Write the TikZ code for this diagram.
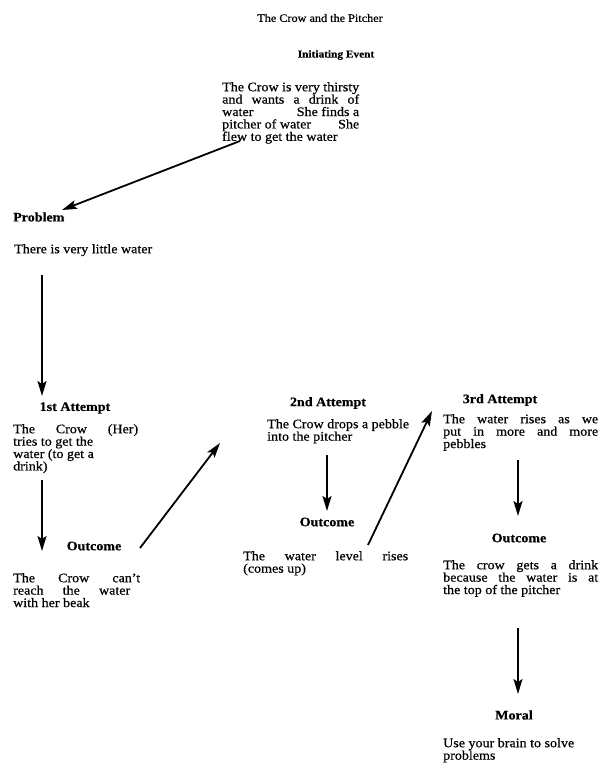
\documentclass[tikz,border=0pt]{standalone}
\usepackage{fontspec}
\setmainfont[FakeBold=0.6,FakeStretch=1.08]{Liberation Serif}
\usetikzlibrary{arrows.meta}
\newcommand\jl[2]{\hbox to #1{#2}}
\begin{document}
\begin{tikzpicture}[x=1pt,y=-1pt,
  body/.style={font=\fontsize{13}{12.4}\selectfont, align=left, inner sep=0pt, anchor=north west},
  head/.style={font=\fontsize{13}{12}\selectfont\bfseries, inner sep=0pt},
  arr/.style={line width=1.8pt, -{Stealth[length=15pt,width=9pt,inset=3pt]}}]
\useasboundingbox (0,0) rectangle (602,771);
\node[font=\fontsize{11.3}{13}\selectfont, inner sep=0pt] (title) at (320,18) {The Crow and the Pitcher};
\node[head, font=\fontsize{10.5}{12}\selectfont\bfseries] (init) at (336,55) {Initiating Event};
\node[body] (initp) at (222,82) {\jl{137pt}{The Crow is very thirsty}\\\jl{137pt}{and wants a drink of}\\\jl{137pt}{water \hfill She finds a}\\\jl{137pt}{pitcher of water \hfill She}\\flew to get the water};
\node[head, anchor=west] (prob) at (13,217) {Problem};
\node[body] (probp) at (14,244) {There is very little water};
\node[head] (att1) at (75,408) {1st Attempt};
\node[body] (att1p) at (13,424) {\jl{125pt}{The Crow (Her)}\\tries to get the\\water (to get a\\drink)};
\node[head] (out1) at (94,546) {Outcome};
\node[body] (out1p) at (13,573) {\jl{127pt}{The Crow can't}\\\jl{117pt}{reach the water}\\with her beak};
\node[head] (att2) at (328,403) {2nd Attempt};
\node[body] (att2p) at (267,419) {The Crow drops a pebble\\into the pitcher};
\node[head] (out2) at (327,522) {Outcome};
\node[body] (out2p) at (243,551) {\jl{165pt}{The water level rises}\\(comes up)};
\node[head] (att3) at (500,400) {3rd Attempt};
\node[body] (att3p) at (443,414) {\jl{155pt}{The water rises as we}\\\jl{155pt}{put in more and more}\\pebbles};
\node[head] (out3) at (519,538) {Outcome};
\node[body] (out3p) at (443,560) {\jl{155pt}{The crow gets a drink}\\\jl{155pt}{because the water is at}\\the top of the pitcher};
\node[head] (moral) at (514,715) {Moral};
\node[body] (moralp) at (443,738) {Use your brain to solve\\problems};
% arrow ends
\coordinate (a1s) at (240,141); \coordinate (a1e) at (62,210);
\coordinate (a2s) at (42,275);  \coordinate (a2e) at (42,396);
\coordinate (a3s) at (42,480);  \coordinate (a3e) at (42,551);
\coordinate (a4s) at (140,548); \coordinate (a4e) at (220,443);
\coordinate (a5s) at (327,455); \coordinate (a5e) at (327,511);
\coordinate (a6s) at (368,545); \coordinate (a6e) at (432,411);
\coordinate (a7s) at (518,460); \coordinate (a7e) at (518,516);
\coordinate (a8s) at (518,628); \coordinate (a8e) at (518,694);
\draw[arr] (a1s) -- (a1e);
\draw[arr] (a2s) -- (a2e);
\draw[arr] (a3s) -- (a3e);
\draw[arr] (a4s) -- (a4e);
\draw[arr] (a5s) -- (a5e);
\draw[arr] (a6s) -- (a6e);
\draw[arr] (a7s) -- (a7e);
\draw[arr] (a8s) -- (a8e);
\end{tikzpicture}
\end{document}
